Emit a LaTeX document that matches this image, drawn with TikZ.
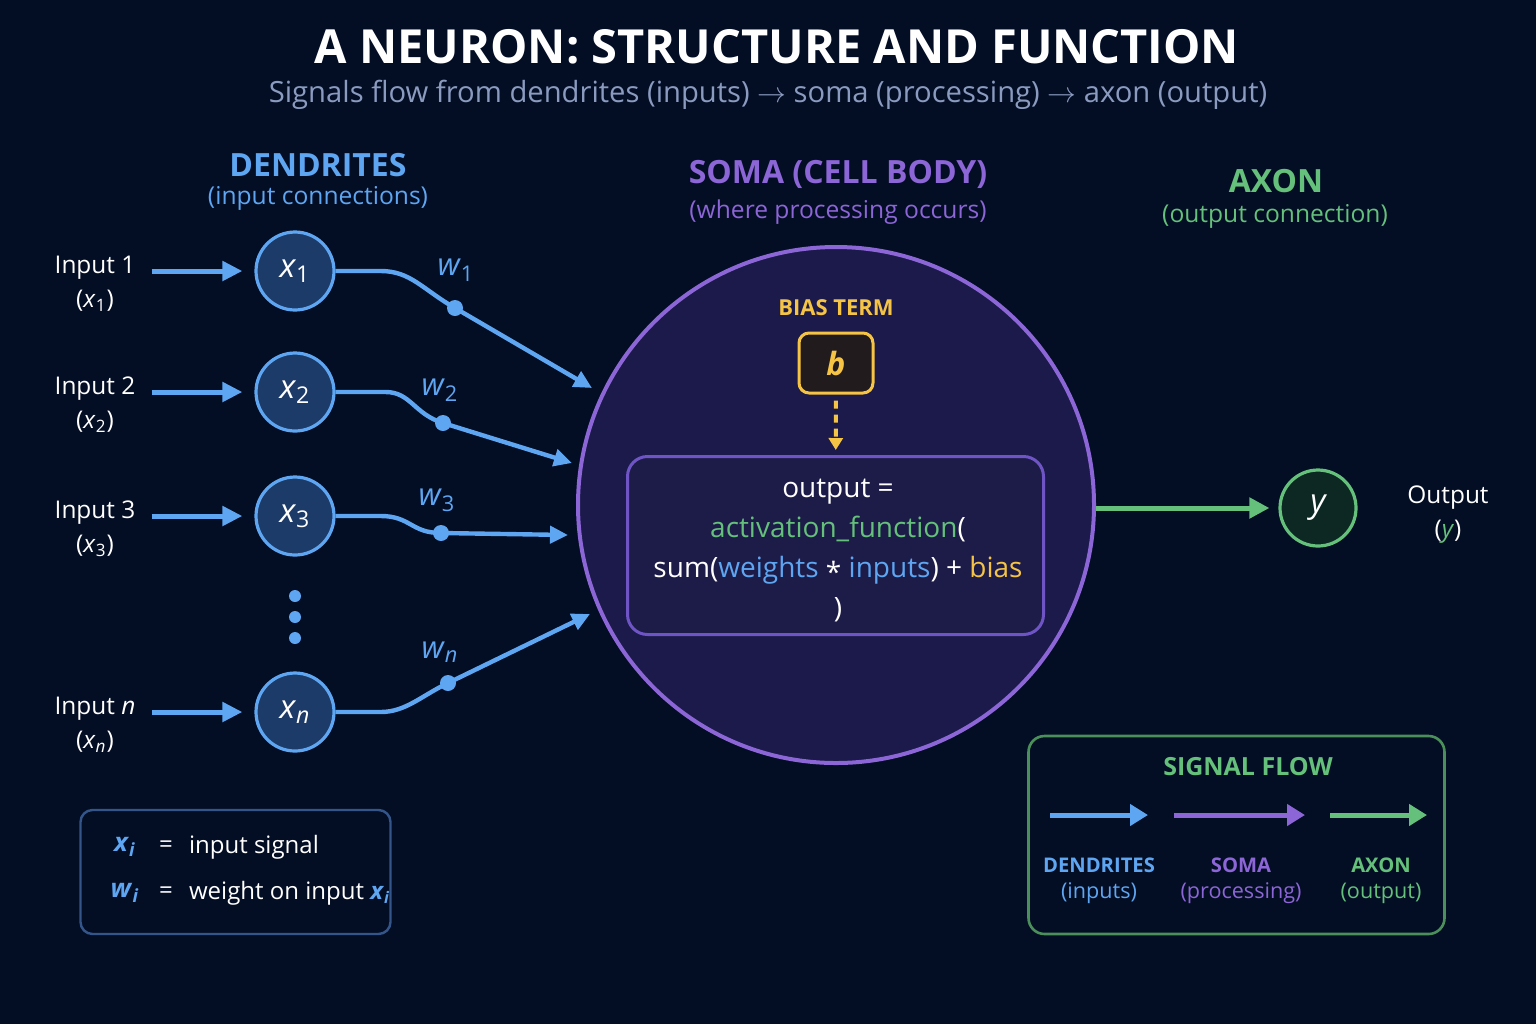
\documentclass[tikz,border=0pt]{standalone}
\usepackage{fontspec}
\setmainfont{Open Sans}
\usetikzlibrary{arrows.meta,positioning}

\definecolor{bgnavy}{RGB}{3,13,36}
\definecolor{dblue}{RGB}{94,166,242}
\definecolor{nodeblue}{RGB}{29,59,104}
\definecolor{spurple}{RGB}{140,101,214}
\definecolor{fpurple}{RGB}{110,84,196}
\definecolor{somafill}{RGB}{27,26,74}
\definecolor{formfill}{RGB}{29,28,72}
\definecolor{sgreen}{RGB}{100,192,122}
\definecolor{ygreen}{RGB}{13,40,34}
\definecolor{gold}{RGB}{245,196,69}
\definecolor{biasfill}{RGB}{34,27,30}
\definecolor{subgray}{RGB}{139,155,192}
\definecolor{keyblue}{RGB}{52,85,138}

\newcommand{\ivar}[2]{\textit{#1}\textsubscript{#2}}

\begin{document}
\begin{tikzpicture}[x=0.5pt, y=-0.5pt,
  text=white,
  font=\fontsize{12}{14}\selectfont,
  maintitle/.style={font=\fontsize{23.5}{28}\selectfont\bfseries},
  subtitle/.style={text=subgray, font=\fontsize{14.6}{18}\selectfont},
  head/.style={font=\fontsize{16}{19}\selectfont\bfseries},
  subhead/.style={font=\fontsize{12.3}{15}\selectfont},
  inlabel/.style={inner sep=1pt, font=\fontsize{12.2}{15}\selectfont},
  innode/.style={circle, draw=dblue, line width=1.6pt, fill=nodeblue, minimum size=39pt, inner sep=0pt, font=\fontsize{16.5}{18}\selectfont},
  wdot/.style={circle, fill=dblue, minimum size=8pt, inner sep=0pt},
  wlabel/.style={text=dblue, font=\fontsize{15.5}{18}\selectfont},
  inarr/.style={dblue, line width=2.5pt, -{Triangle[length=10pt,width=9.5pt]}, shorten <=7pt, shorten >=6pt},
  warr/.style={dblue, line width=2.2pt, -{Triangle[length=9pt,width=8.5pt]}},
  soma/.style={circle, draw=spurple, line width=2pt, fill=somafill, minimum size=258pt, inner sep=0pt},
  biashead/.style={text=gold, font=\fontsize{11}{13}\selectfont\bfseries},
  biasbox/.style={draw=gold, line width=1.5pt, fill=biasfill, rounded corners=5pt, minimum width=37pt, minimum height=30pt, text=gold, font=\fontsize{16}{18}\selectfont\bfseries\itshape},
  biasarr/.style={gold, line width=2pt, dash pattern=on 4pt off 3pt, -{Triangle[length=6pt,width=7pt]}, shorten <=3pt, shorten >=2.5pt},
  fbox/.style={draw=fpurple, line width=1.5pt, fill=formfill, rounded corners=10pt, minimum width=208pt, minimum height=89pt},
  ftext/.style={align=center, font=\fontsize{14}{20}\selectfont},
  ynode/.style={circle, draw=sgreen, line width=1.6pt, fill=ygreen, minimum size=38pt, inner sep=0pt, font=\fontsize{16.5}{18}\selectfont\itshape},
  axarr/.style={sgreen, line width=2.5pt, -{Triangle[length=10pt,width=10pt]}, shorten >=4.5pt},
  legbox/.style={draw=keyblue, line width=1.2pt, rounded corners=6pt, minimum width=155pt, minimum height=62pt},
  keysym/.style={text=dblue, font=\fontsize{13}{15}\selectfont\bfseries},
  keytext/.style={font=\fontsize{12}{14}\selectfont},
  flowbox/.style={draw=sgreen!75!black, line width=1.3pt, rounded corners=8pt, minimum width=208pt, minimum height=99pt},
  flowhead/.style={text=sgreen, font=\fontsize{12.5}{15}\selectfont\bfseries},
  flowlab/.style={font=\fontsize{10.1}{12}\selectfont\bfseries},
  flowsub/.style={font=\fontsize{10.8}{13}\selectfont},
  flowarr/.style={line width=2.5pt, -{Triangle[length=9pt,width=10.5pt]}},
]
\useasboundingbox (0,0) rectangle (1536,1024);
\fill[bgnavy] (0,0) rectangle (1536,1024);

% title
\node[maintitle] (title) at (777,47) {A NEURON: STRUCTURE AND FUNCTION};
\node[subtitle] (subtitle) at (768,95) {Signals flow from dendrites (inputs) $\rightarrow$ soma (processing) $\rightarrow$ axon (output)};

% column heads
\node[head, text=dblue] (denhead) at (318,165) {DENDRITES};
\node[subhead, text=dblue] (densub) at (318,198) {(input connections)};
\node[head, text=spurple] (somahead) at (838,174) {SOMA (CELL BODY)};
\node[subhead, text=spurple] (somasub) at (838,212) {(where processing occurs)};
\node[head, text=sgreen] (axhead) at (1276,181) {AXON};
\node[subhead, text=sgreen] (axsub) at (1275,216) {(output connection)};

% soma
\node[soma] (soma) at (836,505) {};

% inputs
\foreach \i/\yy/\s in {1/271/1, 2/392/2, 3/516/3, n/712/\textit{n}} {
  \node[innode] (x\i) at (295,\yy) {\ivar{x}{\s}};
  \node[inlabel] (lab\i) at (95,\yy-3) {Input \s};
  \node[inlabel] (sub\i) at (95,\yy+30) {(\ivar{x}{\s})};
  \draw[inarr] (lab\i.east |- x\i) -- (x\i);
}
\foreach \yy in {596,617,638}
  \fill[dblue] (295,\yy) circle (3pt);

% weights
\node[wdot] (d1) at (455,308) {};
\node[wdot] (d2) at (443,423) {};
\node[wdot] (d3) at (441,533) {};
\node[wdot] (dn) at (448,683) {};
\node[wlabel] (w1) at (456,270) {\ivar{w}{1}};
\node[wlabel] (w2) at (440,390) {\ivar{w}{2}};
\node[wlabel] (w3) at (437,500) {\ivar{w}{3}};
\node[wlabel] (wn) at (440,652) {\ivar{w}{\textit{n}}};
\coordinate (e1) at (592,388);
\coordinate (e2) at (572,463);
\coordinate (e3) at (568,535);
\coordinate (en) at (590,614);
\draw[warr] (x1.east) -- ++(45,0) .. controls +(30,0) and (422,289) .. (d1.center) -- (e1);
\draw[warr] (x2.east) -- ++(50,0) .. controls +(25,0) and (414,414) .. (d2.center) -- (e2);
\draw[warr] (x3.east) -- ++(45,0) .. controls +(30,0) and (411,533) .. (d3.center) -- (e3);
\draw[warr] (xn.east) -- ++(45,0) .. controls +(25,0) and (421,696) .. (dn.center) -- (en);

% bias and formula
\node[biashead] (biashd) at (836,308) {BIAS TERM};
\node[biasbox] (bias) at (836,363) {b};
\node[fbox] (formula) at (835.5,545.5) {};
\node[ftext] (formtext) at (838,550) {output =\\
  \textcolor{sgreen}{activation\_function}(\\
  sum(\textcolor{dblue}{weights} \raisebox{-0.35ex}{*} \textcolor{dblue}{inputs}) + \textcolor{gold}{bias}\\
  )};
\draw[biasarr] (bias) -- (formula);

% axon
\node[ynode] (yout) at (1318,508) {y};
\draw[axarr] (soma.east |- yout) -- (yout);
\node[inlabel] (outlab) at (1448,498) {Output};
\node[inlabel] (outsub) at (1448,532) {(\textcolor{sgreen}{\textit{y}})};

% key
\node[legbox] (key) at (235.5,872) {};
\node[keysym] (kx) at (125,847) {\ivar{x}{\textit{i}}};
\node[keytext] (keq1) at (166,847) {=};
\node[keytext, anchor=west] (kxt) at (182,847) {input signal};
\node[keysym] (kw) at (125,893) {\ivar{w}{\textit{i}}};
\node[keytext] (keq2) at (166,893) {=};
\node[keytext, anchor=west] (kwt) at (182,893) {weight on input \textcolor{dblue}{\bfseries\ivar{x}{\textit{i}}}};

% signal flow
\node[flowbox] (flow) at (1236.5,835) {};
\node[flowhead] (flowhd) at (1248,767) {SIGNAL FLOW};
\foreach \n/\a/\b/\c in {1/1050/1148/dblue, 2/1174/1305/spurple, 3/1330/1427/sgreen} {
  \coordinate (fs\n) at (\a,815);
  \coordinate (fe\n) at (\b,815);
  \draw[flowarr, \c] (fs\n) -- (fe\n);
}
\node[flowlab, text=dblue] (fl1) at (1099,865) {DENDRITES};
\node[flowsub, text=dblue] (fs1l) at (1099,893) {(inputs)};
\node[flowlab, text=spurple] (fl2) at (1241,865) {SOMA};
\node[flowsub, text=spurple] (fs2l) at (1241,893) {(processing)};
\node[flowlab, text=sgreen] (fl3) at (1381,865) {AXON};
\node[flowsub, text=sgreen] (fs3l) at (1381,893) {(output)};
\end{tikzpicture}
\end{document}
